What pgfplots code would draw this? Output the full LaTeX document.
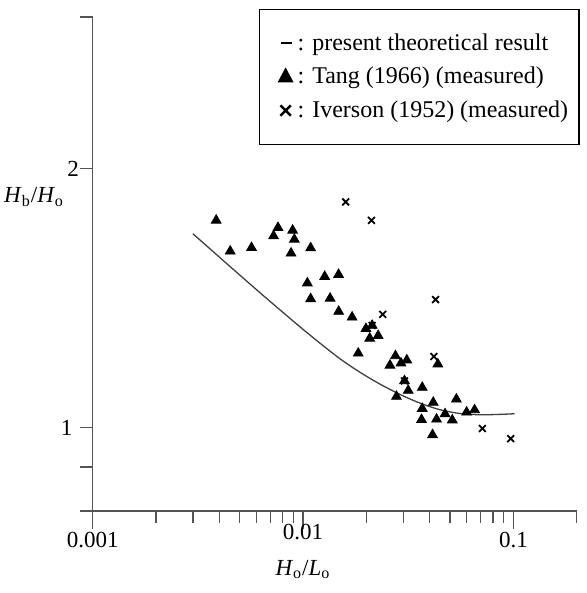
\documentclass[border=0pt]{standalone}
\usepackage{fontspec}
\setmainfont{Liberation Serif}
\usepackage{pgfplots}
\pgfplotsset{compat=1.18}
\definecolor{axgray}{rgb}{0.33,0.33,0.33}
\definecolor{curvegray}{rgb}{0.25,0.25,0.25}

\pgfplotstableread{
x y
0.003865 1.7412
0.004506 1.6031
0.005690 1.6183
0.007603 1.7075
0.007244 1.6699
0.008924 1.6952
0.009092 1.6547
0.008769 1.5946
0.010869 1.6170
0.010483 1.4720
0.012675 1.4979
0.014757 1.5060
0.010869 1.4113
0.013446 1.4132
0.014774 1.3643
0.017113 1.3436
0.019907 1.3030
0.021309 1.3142
0.020752 1.2699
0.022757 1.2788
0.018298 1.2200
0.027505 1.2115
0.025896 1.1813
0.029220 1.1883
0.031134 1.1979
0.030363 1.1332
0.031623 1.1043
0.036871 1.1132
0.027810 1.0867
0.043752 1.1850
0.053580 1.0789
0.041591 1.0694
0.036871 1.0523
0.047339 1.0372
0.059926 1.0419
0.065402 1.0484
0.036584 1.0214
0.043132 1.0225
0.051230 1.0203
0.041277 0.9809
}\tang

\pgfplotstableread{
x y
0.015953 1.8292
0.021142 1.7412
0.023933 1.3537
0.042658 1.4087
0.021309 1.3142
0.041871 1.2096
0.030363 1.1332
0.071187 0.9976
0.097074 0.9709
}\iverson

\pgfplotstableread{
x y
0.002994 1.6800
0.003673 1.6076
0.004506 1.5382
0.006259 1.4339
0.007795 1.3694
0.009707 1.3085
0.012090 1.2524
0.015052 1.2013
0.018745 1.1587
0.023339 1.1226
0.029060 1.0922
0.036190 1.0671
0.045060 1.0486
0.056105 1.0382
0.069870 1.0349
0.087000 1.0361
0.101440 1.0378
}\theory

\begin{document}
\begin{tikzpicture}
\begin{axis}[
  name=ax,
  scale only axis,
  width=242pt, height=247pt,
  xmode=log, ymode=log,
  xmin=0.001, xmax=0.2, ymin=0.8, ymax=3,
  axis x line*=bottom, axis y line*=left,
  axis line style={line width=0.7pt, color=axgray},
  tick style={line width=0.7pt, color=axgray},
  tick align=outside,
  xtick={0.001,0.1}, xticklabels={0.001,0.1},
  minor xtick={0.002,0.003,0.004,0.005,0.006,0.007,0.008,0.009,0.02,0.03,0.04,0.05,0.06,0.07,0.08,0.09,0.2},
  xtick style={/pgfplots/major tick length=9pt, /pgfplots/minor tick length=6pt},
  extra x ticks={0.01}, extra x tick labels={0.01},
  extra x tick style={/pgfplots/major tick length=0pt},
  ytick={0.8,0.9,1,2,3}, yticklabels={},
  minor ytick={},
  ytick style={/pgfplots/major tick length=6.5pt},
  tick label style={font=\fontsize{11.5}{13}\selectfont, text=black},
  xticklabel shift=3pt,
  xlabel={\textit{H}\textsubscript{o}/\textit{L}\textsubscript{o}},
  ylabel={\textit{H}\textsubscript{b}/\textit{H}\textsubscript{o}},
  label style={font=\fontsize{11.5}{13}\selectfont},
  xlabel style={at={(axis description cs:0.4345,0)}, anchor=center, yshift=-29.3pt},
  ylabel style={at={(axis description cs:0,0.6356)}, rotate=-90, anchor=center, xshift=-29.3pt},
  clip=false,
  legend style={at={(1.0068,1.017)}, anchor=north east, draw=black, line width=0.8pt,
    font=\fontsize{12}{14}\selectfont, inner xsep=3.5pt, inner ysep=10pt, row sep=3pt,
    cells={anchor=west}},
  legend cell align=left,
]
\addlegendimage{legend image code/.code={\path[draw=none,fill=none] (0pt,-3pt) rectangle (13.5pt,3pt); \draw[line width=0.9pt, black] (7pt,0pt) -- (12.5pt,0pt);}}
\addlegendentry{: present theoretical result}
\addlegendimage{legend image code/.code={\path[draw=none,fill=none] (0pt,-3pt) rectangle (13.5pt,3pt); \fill[black] (9.5pt,3.9pt) -- (6.2pt,-2.3pt) -- (12.8pt,-2.3pt) -- cycle;}}
\addlegendentry{: Tang (1966) (measured)}
\addlegendimage{legend image code/.code={\path[draw=none,fill=none] (0pt,-3pt) rectangle (13.5pt,3pt); \draw[black, line width=1.3pt] (6.9pt,-2.6pt) -- (12.1pt,2.6pt) (6.9pt,2.6pt) -- (12.1pt,-2.6pt);}}
\addlegendentry{: Iverson (1952) (measured)}

\addplot[smooth, line width=0.65pt, color=curvegray, forget plot] table {\theory};
\addplot[only marks, mark=triangle*, mark size=2.8pt, black, forget plot] table {\tang};
\addplot[only marks, mark=x, mark size=2.4pt, line width=0.9pt, black, forget plot] table {\iverson};

\node[anchor=east, inner sep=0pt, font=\fontsize{11.5}{13}\selectfont] at ([xshift=-6.7pt]axis cs:0.001,2) {2};
\node[anchor=east, inner sep=0pt, font=\fontsize{11.5}{13}\selectfont] at ([xshift=-10pt]axis cs:0.001,1) {1};
\end{axis}
\pgfresetboundingbox
\path[use as bounding box] ([xshift=-46.35pt,yshift=-41pt]ax.south west) rectangle ++(293.5pt,296.5pt);
\end{tikzpicture}
\end{document}
